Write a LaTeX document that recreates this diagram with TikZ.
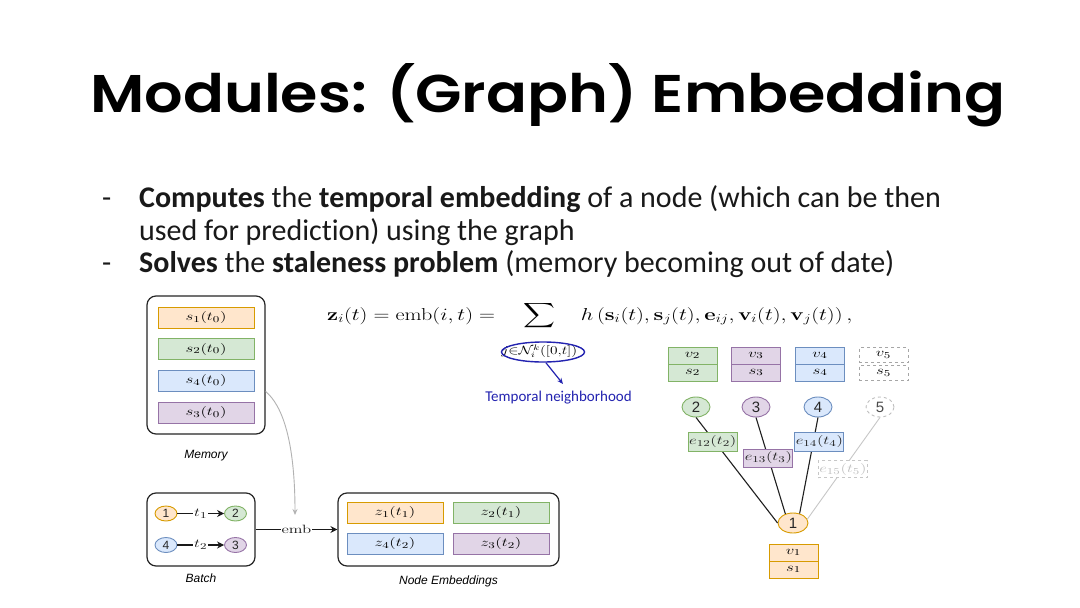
\documentclass[tikz,border=0pt]{standalone}
\usepackage[no-math]{fontspec}
\setmainfont{Carlito}[Ligatures=NoCommon]
\newfontfamily\titlefont{Poppins SemiBold}
\newfontfamily\helv{Liberation Sans}
\usepackage{amsmath}
\usepackage{graphicx}
\usetikzlibrary{arrows.meta,shapes.geometric,calc}
\definecolor{ofill}{HTML}{FFE6CC}\definecolor{odraw}{HTML}{D79B00}
\definecolor{gfill}{HTML}{D5E8D4}\definecolor{gdraw}{HTML}{82B366}
\definecolor{bfill}{HTML}{DAE8FC}\definecolor{bdraw}{HTML}{6C8EBF}
\definecolor{pfill}{HTML}{E1D5E7}\definecolor{pdraw}{HTML}{9673A6}
\definecolor{nbhblue}{HTML}{2323B0}
\newcommand{\stm}[1]{\scalebox{1.4}[1]{$#1$}}
\newcommand{\stmx}[2]{\scalebox{#1}[1]{$#2$}}
\begin{document}
\begin{tikzpicture}[x=1pt,y=-1pt,
  cont/.style={draw=black!85, line width=1.2pt, rounded corners=9pt, inner sep=0pt},
  cell/.style={rectangle, draw, line width=0.9pt, inner sep=0pt, font=\fontsize{12.5}{14}\selectfont},
  cellO/.style={cell, draw=odraw, fill=ofill},
  cellG/.style={cell, draw=gdraw, fill=gfill},
  cellB/.style={cell, draw=bdraw, fill=bfill},
  cellP/.style={cell, draw=pdraw, fill=pfill},
  cellW/.style={cell, draw=black!35, dashed, fill=white},
  membox/.style={minimum width=96pt, minimum height=21pt},
  gbox/.style={minimum width=49pt, minimum height=17pt},
  ebox/.style={minimum width=49pt, minimum height=19pt},
  circ/.style={ellipse, draw, line width=0.9pt, inner sep=0pt, text=black!85},
  bcirc/.style={circ, minimum width=22pt, minimum height=15pt, font=\helv\fontsize{12}{14}\selectfont},
  gcirc/.style={circ, minimum width=28pt, minimum height=20pt, font=\helv\fontsize{15}{17}\selectfont},
  lbl/.style={anchor=base, inner sep=0pt, font=\helv\itshape\fontsize{12}{14}\selectfont},
  arr/.style={-{Stealth[length=7pt,width=7pt]}, line width=1.1pt, black!90},
  gline/.style={line width=1.1pt, black!88},
  bullet/.style={anchor=base west, inner sep=0pt, font=\fontsize{30}{33}\selectfont, text=black!90}
]
\useasboundingbox (0,0) rectangle (1080,608);
\fill[white] (0,0) rectangle (1080,608);

% Title
\node[anchor=base west, inner sep=0pt] (title) at (90,112)
  {\resizebox{915pt}{49pt}{\titlefont Modules: (Graph) Embedding}};

% Bullets
\node[bullet] (d1) at (102,207) {-};
\node[bullet] (l1) at (139,207) {\textbf{Computes} the \textbf{temporal embedding} of a node (which can be then};
\node[bullet] (l2) at (139,240) {used for prediction) using the graph};
\node[bullet] (d2) at (102,272) {-};
\node[bullet] (l3) at (139,272) {\textbf{Solves} the \textbf{staleness problem} (memory becoming out of date)};

% Memory
\node[cont, minimum width=118pt, minimum height=138pt] (mem) at (206,365) {};
\node[cellO, membox] (s1) at (206,317.5) {\stm{s_1(t_0)}};
\node[cellG, membox] (s2) at (206,349) {\stm{s_2(t_0)}};
\node[cellB, membox] (s4) at (206,380.5) {\stm{s_4(t_0)}};
\node[cellP, membox] (s3) at (206,412.5) {\stm{s_3(t_0)}};
\node[lbl] (memlbl) at (206,458) {Memory};

% Batch
\node[cont, minimum width=108pt, minimum height=73pt] (batch) at (201,529.5) {};
\node[bcirc, draw=odraw, fill=ofill] (b1) at (166,513.5) {1};
\node[bcirc, draw=gdraw, fill=gfill] (b2) at (235.5,513.5) {2};
\node[bcirc, draw=bdraw, fill=bfill] (b4) at (166,545) {4};
\node[bcirc, draw=pdraw, fill=pfill] (b3) at (235.5,545) {3};
\draw[arr] (b1) -- node[fill=white, inner sep=1pt, font=\fontsize{12.5}{14}\selectfont] (t1) {\stm{t_1}} (b2);
\draw[arr] (b4) -- node[fill=white, inner sep=1pt, font=\fontsize{12.5}{14}\selectfont] (t2) {\stm{t_2}} (b3);
\node[lbl] (batchlbl) at (201,582) {Batch};

% Node embeddings
\node[cont, minimum width=221pt, minimum height=73pt] (ne) at (448.5,529.5) {};
\node[cellO, membox] (z1) at (395,512.5) {\stm{z_1(t_1)}};
\node[cellG, membox] (z2) at (501,512.5) {\stm{z_2(t_1)}};
\node[cellB, membox] (z4) at (395,543.5) {\stm{z_4(t_2)}};
\node[cellP, membox] (z3) at (501,543.5) {\stm{z_3(t_2)}};
\node[lbl] (nelbl) at (448.5,584) {Node Embeddings};

% emb arrow
\draw[arr] (batch.east) -- node[fill=white, inner sep=1pt, font=\fontsize{12.5}{14}\selectfont] (emb) {\stm{\mathrm{emb}}} (ne.west);

% memory to emb curve
\coordinate (embin) at (295,515);
\draw[black!30, line width=0.9pt, -{Stealth[length=6pt,width=5pt]}] (mem.east |- s4.south) .. controls (282,405) and (295,440) .. (embin);

% Formula
\node[anchor=base west, inner sep=0pt, font=\fontsize{17}{20}\selectfont] (formula) at (327,320)
 {\stmx{1.28}{\displaystyle \mathbf{z}_i(t)=\mathrm{emb}(i,t)=\sum_{\rule{0pt}{22pt}j\in\mathcal{N}_i^k([0,t])} h\left(\mathbf{s}_i(t),\mathbf{s}_j(t),\mathbf{e}_{ij},\mathbf{v}_i(t),\mathbf{v}_j(t)\right),}};
\node[ellipse, draw=nbhblue, line width=1.4pt, minimum width=83pt, minimum height=20pt, inner sep=0pt] (nbh) at (543,352) {};
\coordinate (nbhtip) at (563,384);
\draw[nbhblue, line width=1.2pt, -{Stealth[length=6pt,width=5pt]}] (nbh.-75) -- (nbhtip);
\node[anchor=base, inner sep=0pt, text=nbhblue, font=\fontsize{15}{18}\selectfont] (nbhlbl) at (558.5,401) {Temporal neighborhood};

% Graph: top feature boxes
\node[cellG, gbox] (v2) at (692.5,355.5) {\stm{v_2}};
\node[cellG, gbox] (sg2) at (692.5,372.5) {\stm{s_2}};
\node[cellP, gbox] (v3) at (756,355.5) {\stm{v_3}};
\node[cellP, gbox] (sg3) at (756,372.5) {\stm{s_3}};
\node[cellB, gbox] (v4) at (820,355.5) {\stm{v_4}};
\node[cellB, gbox] (sg4) at (820,372.5) {\stm{s_4}};
\node[cellW, gbox, minimum height=15pt] (v5) at (883.5,355) {\stm{v_5}};
\node[cellW, gbox, minimum height=15pt] (sg5) at (883.5,373) {\stm{s_5}};

% Graph circles
\node[gcirc, draw=gdraw, fill=gfill] (n2) at (696,407) {2};
\node[gcirc, draw=pdraw, fill=pfill] (n3) at (756,407) {3};
\node[gcirc, draw=bdraw, fill=bfill] (n4) at (818,407) {4};
\node[gcirc, draw=black!25, dashed, fill=white, text=black!70] (n5) at (880,407) {5};
\node[gcirc, draw=odraw, fill=ofill, minimum width=30pt] (n1) at (793,523) {1};
\node[cellO, gbox] (v1) at (793.5,552.5) {\stm{v_1}};
\node[cellO, gbox] (sg1) at (793.5,569.5) {\stm{s_1}};

% Graph edges with labels
\draw[gline] (n2.south) -- node[cellG, ebox, pos=0.23, xshift=-2pt] (e12) {\stm{e_{12}(t_2)}} (n1.west);
\draw[gline] (n3.south) -- node[cellP, ebox, minimum height=18pt, pos=0.42] (e13) {\stm{e_{13}(t_3)}} (n1.130);
\draw[gline] (n4.south) -- node[cellB, ebox, pos=0.25, xshift=6pt] (e14) {\stm{e_{14}(t_4)}} (n1.55);
\draw[black!22, line width=0.9pt] (n5.south) -- node[cellW, draw=black!22, ebox, minimum height=17pt, pos=0.51, text=black!25] (e15) {\stm{e_{15}(t_5)}} (n1.15);

\end{tikzpicture}
\end{document}
